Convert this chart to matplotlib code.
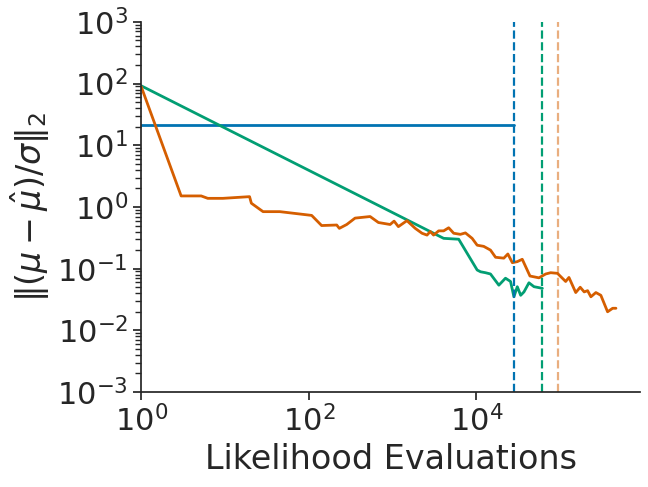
import matplotlib
matplotlib.use('Agg')
import matplotlib.pyplot as plt
import matplotlib.ticker as mticker
import seaborn as sns

# values (log-log)
blue_x = [1, 28000]
blue_y = [21.4, 21.4]

green_x = [1, 4060, 6140, 10200, 11200, 12800, 14700, 18500, 22200, 25500,
           28000, 30700, 33700, 36900, 42300, 48600, 61200]
green_y = [92, 0.31, 0.30, 0.095, 0.089, 0.086, 0.082, 0.054, 0.070, 0.062,
           0.035, 0.051, 0.037, 0.042, 0.059, 0.051, 0.048]

orange_x = [1, 2.99, 5.19, 6.22, 9.41, 19.6, 20.6, 28.4, 45, 108, 142, 215, 231,
            283, 356, 538, 676, 933, 1040, 1170, 1480, 1860, 2240, 2570, 2810,
            3080, 3540, 4060, 4660, 5350, 6430, 7380, 8880, 10200, 12200, 14700,
            16900, 21200, 23700, 26800, 30700, 35200, 43500, 55700, 67000, 76900,
            92500, 116000, 127000, 153000, 173000, 193000, 212000, 232000,
            266000, 305000, 367000, 422000, 462000]
orange_y = [89, 1.51, 1.51, 1.38, 1.38, 1.47, 1.15, 0.84, 0.84, 0.73, 0.50, 0.51,
            0.45, 0.52, 0.66, 0.70, 0.56, 0.52, 0.59, 0.48, 0.60, 0.45, 0.375,
            0.35, 0.40, 0.35, 0.41, 0.41, 0.46, 0.375, 0.36, 0.38, 0.31, 0.24,
            0.23, 0.20, 0.153, 0.148, 0.173, 0.125, 0.13, 0.142, 0.076, 0.071,
            0.082, 0.086, 0.084, 0.062, 0.072, 0.041, 0.050, 0.042, 0.044,
            0.035, 0.041, 0.037, 0.020, 0.0228, 0.0228]

# budget markers (where each method stopped)
vline_x = [28000, 61200, 95000]

sns.set_theme(style='ticks', palette='colorblind')
pal = sns.color_palette('colorblind')
blue, green, orange = pal[0], pal[2], pal[3]

fig, ax = plt.subplots(figsize=(6.48, 4.87), dpi=100)
fig.subplots_adjust(left=0.218, right=0.988, top=0.955, bottom=0.195)

ax.plot(blue_x, blue_y, color=blue, lw=2)
ax.plot(green_x, green_y, color=green, lw=2)
ax.plot(orange_x, orange_y, color=orange, lw=2)

ax.axvline(vline_x[0], color=blue, ls='--', lw=1.6)
ax.axvline(vline_x[1], color=green, ls='--', lw=1.6)
ax.axvline(vline_x[2], color=orange, ls='--', lw=1.6, alpha=0.5)

ax.set_xscale('log')
ax.set_yscale('log')
ax.set_xlim(1, 9e5)
ax.set_ylim(1e-3, 1e3)
ax.set_xticks([1, 1e2, 1e4])
ax.xaxis.set_minor_locator(mticker.NullLocator())
ax.yaxis.set_major_locator(mticker.LogLocator(base=10, numticks=10))
ax.yaxis.set_minor_locator(mticker.LogLocator(base=10, subs=range(2, 10), numticks=20))

ax.tick_params(axis='both', which='major', labelsize=22)
ax.set_xlabel('Likelihood Evaluations', fontsize=24)
ax.set_ylabel(r'$\|(\mu - \hat{\mu})/\sigma\|_2$', fontsize=24)
sns.despine(ax=ax)

fig.savefig('out.png', dpi=100)
